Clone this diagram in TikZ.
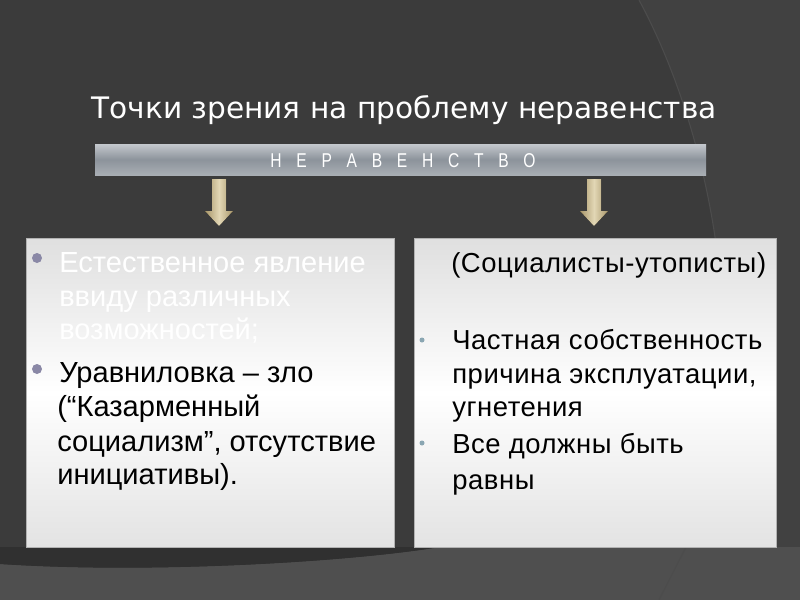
\documentclass[tikz,border=0pt]{standalone}
\usepackage{fontspec}
\setmainfont{Liberation Sans}
\newfontfamily\titlefont{DejaVu Sans}
\newfontfamily\barfont[FakeStretch=0.78,LetterSpace=52]{Liberation Sans}
\newfontfamily\rfont[LetterSpace=2]{Liberation Sans}
\begin{document}
\begin{tikzpicture}[x=0.75pt,y=-0.75pt,
  box/.style={draw=gray!60,line width=0.6pt,top color=gray!25!white,bottom color=gray!22!white,middle color=white,rectangle,inner sep=0pt},
  bodytext/.style={anchor=base west,inner sep=0pt,font=\fontsize{21.8}{26}\selectfont},
  rbodytext/.style={anchor=base west,inner sep=0pt,font=\rfont\fontsize{20.6}{26}\selectfont},
  goldarrow/.style={left color=gold1,right color=gold1,middle color=gold2,draw=none}]
\definecolor{bgdark}{HTML}{3B3B3B}
\definecolor{bgright}{HTML}{414141}
\definecolor{bglow}{HTML}{4F4F4F}
\definecolor{bgband}{HTML}{303030}
\definecolor{bartop}{HTML}{C4C8CD}
\definecolor{barmid}{HTML}{8C939B}
\definecolor{barbot}{HTML}{A9AEB4}
\definecolor{gold1}{HTML}{A8966A}
\definecolor{gold2}{HTML}{E2D7B5}
\definecolor{bulletL}{HTML}{8A88A6}
\definecolor{bulletR}{HTML}{8AA6B2}
% background
\fill[bgdark] (0,0) rectangle (800,600);
\useasboundingbox (0,0) rectangle (800,600);
\fill[bgright] (639,0) .. controls (720,150) and (770,420) .. (659,600) -- (800,600) -- (800,0) -- cycle;
\draw[black!70,line width=0.8pt] (639,0) .. controls (720,150) and (770,420) .. (659,600);
\fill[bglow] (0,564) .. controls (150,574) and (350,562) .. (440,547) -- (800,547) -- (800,600) -- (0,600) -- cycle;
\fill[bgband] (0,547) -- (440,547) .. controls (350,562) and (150,574) .. (0,564) -- cycle;
\draw[black!70,line width=0.8pt] (686,547) -- (659,600);
% title
\node[anchor=base,inner sep=0pt,text=white,font=\titlefont\fontsize{22.2}{25}\selectfont] (title) at (404,118) {Точки зрения на проблему неравенства};
% bar
\node[rectangle,minimum width=611*0.75pt,minimum height=31*0.75pt,inner sep=0pt,top color=bartop,bottom color=barbot,middle color=barmid] (bar) at (400.5,159.5) {};
\node[anchor=base,inner sep=0pt,text=white,font=\barfont\fontsize{15}{17}\selectfont] (bartext) at (403,167) {Н Е Р А В Е Н С Т В О};
% arrows
\fill[goldarrow] (212,179) -- (226,179) -- (226,211) -- (233,211) -- (219,226) -- (205,211) -- (212,211) -- cycle;
\fill[goldarrow] (587,179) -- (601,179) -- (601,211) -- (608,211) -- (594,226) -- (580,211) -- (587,211) -- cycle;
% boxes
\node[box,minimum width=368*0.75pt,minimum height=309*0.75pt] (lbox) at (210,392.5) {};
\node[box,minimum width=362*0.75pt,minimum height=309*0.75pt] (rbox) at (595,392.5) {};
% left text
\fill[bulletL] (37,258) circle (5);
\fill[bulletL] (37,369) circle (5);
\node[bodytext,text=white] (l1) at (59,272) {Естественное явление};
\node[bodytext,text=white] (l2) at (59,306) {ввиду различных};
\node[bodytext,text=white] (l3) at (59,339) {возможностей;};
\node[bodytext] (l4) at (59,382) {Уравниловка – зло};
\node[bodytext] (l5) at (57,416) {(“Казарменный};
\node[bodytext] (l6) at (57,451) {социализм”, отсутствие};
\node[bodytext] (l7) at (57,484) {инициативы).};
% right text
\fill[bulletR] (422,340) circle (2.5);
\fill[bulletR] (422,443) circle (2.5);
\node[rbodytext] (r0) at (451,272) {(Социалисты-утописты)};
\node[rbodytext] (r1) at (452,349) {Частная собственность};
\node[rbodytext] (r2) at (452,383) {причина эксплуатации,};
\node[rbodytext] (r3) at (452,416) {угнетения};
\node[rbodytext] (r4) at (452,453) {Все должны быть};
\node[rbodytext] (r5) at (452,489) {равны};
\end{tikzpicture}
\end{document}
